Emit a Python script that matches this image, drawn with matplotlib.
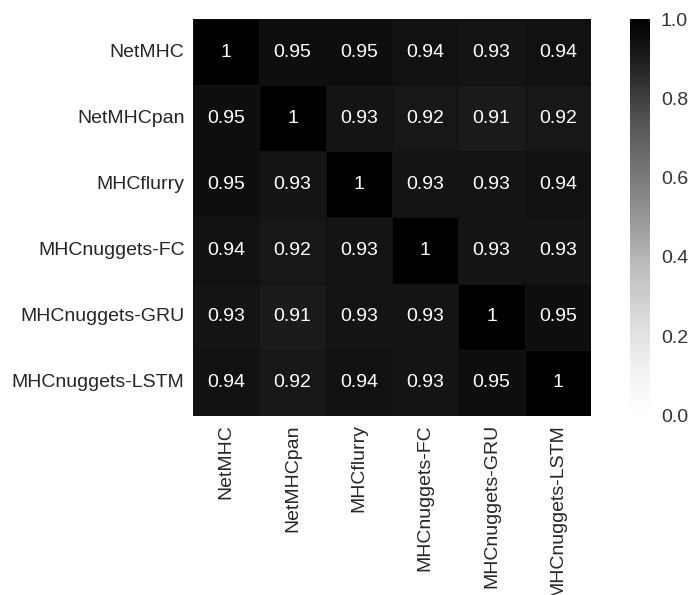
import numpy as np
import pandas as pd
import seaborn as sns
import matplotlib
matplotlib.use('Agg')
import matplotlib.pyplot as plt

models = ['NetMHC', 'NetMHCpan', 'MHCflurry', 'MHCnuggets-FC', 'MHCnuggets-GRU', 'MHCnuggets-LSTM']
netmhc = [1, 0.95, 0.95, 0.94, 0.93, 0.94]
netmhcpan = [0.95, 1, 0.93, 0.92, 0.91, 0.92]
mhcflurry = [0.95, 0.93, 1, 0.93, 0.93, 0.94]
nuggets_fc = [0.94, 0.92, 0.93, 1, 0.93, 0.93]
nuggets_gru = [0.93, 0.91, 0.93, 0.93, 1, 0.95]
nuggets_lstm = [0.94, 0.92, 0.94, 0.93, 0.95, 1]

corr = pd.DataFrame([netmhc, netmhcpan, mhcflurry, nuggets_fc, nuggets_gru, nuggets_lstm],
                    index=models, columns=models)

sns.set_style('white')
plt.rcParams['font.family'] = ['Liberation Sans', 'DejaVu Sans']

fig = plt.figure(figsize=(6.89, 5.95), dpi=100)
ax = fig.add_axes([0.280, 0.301, 0.578, 0.667])
cax = fig.add_axes([0.914, 0.302, 0.029, 0.666])

sns.heatmap(corr, ax=ax, cbar_ax=cax, cmap='Greys', vmin=0, vmax=1,
            annot=True, annot_kws={'size': 14, 'color': 'white'},
            linewidths=0.5, linecolor='#111111')

ax.tick_params(axis='both', length=0, labelsize=14, pad=6)
plt.setp(ax.get_xticklabels(), rotation=90)
plt.setp(ax.get_yticklabels(), rotation=0)
cax.tick_params(length=0, labelsize=14, colors='#333333', pad=8)
cax.set_yticks([0.0, 0.2, 0.4, 0.6, 0.8, 1.0])
for sp in cax.spines.values():
    sp.set_visible(False)

fig.savefig('out.png', dpi=100)
